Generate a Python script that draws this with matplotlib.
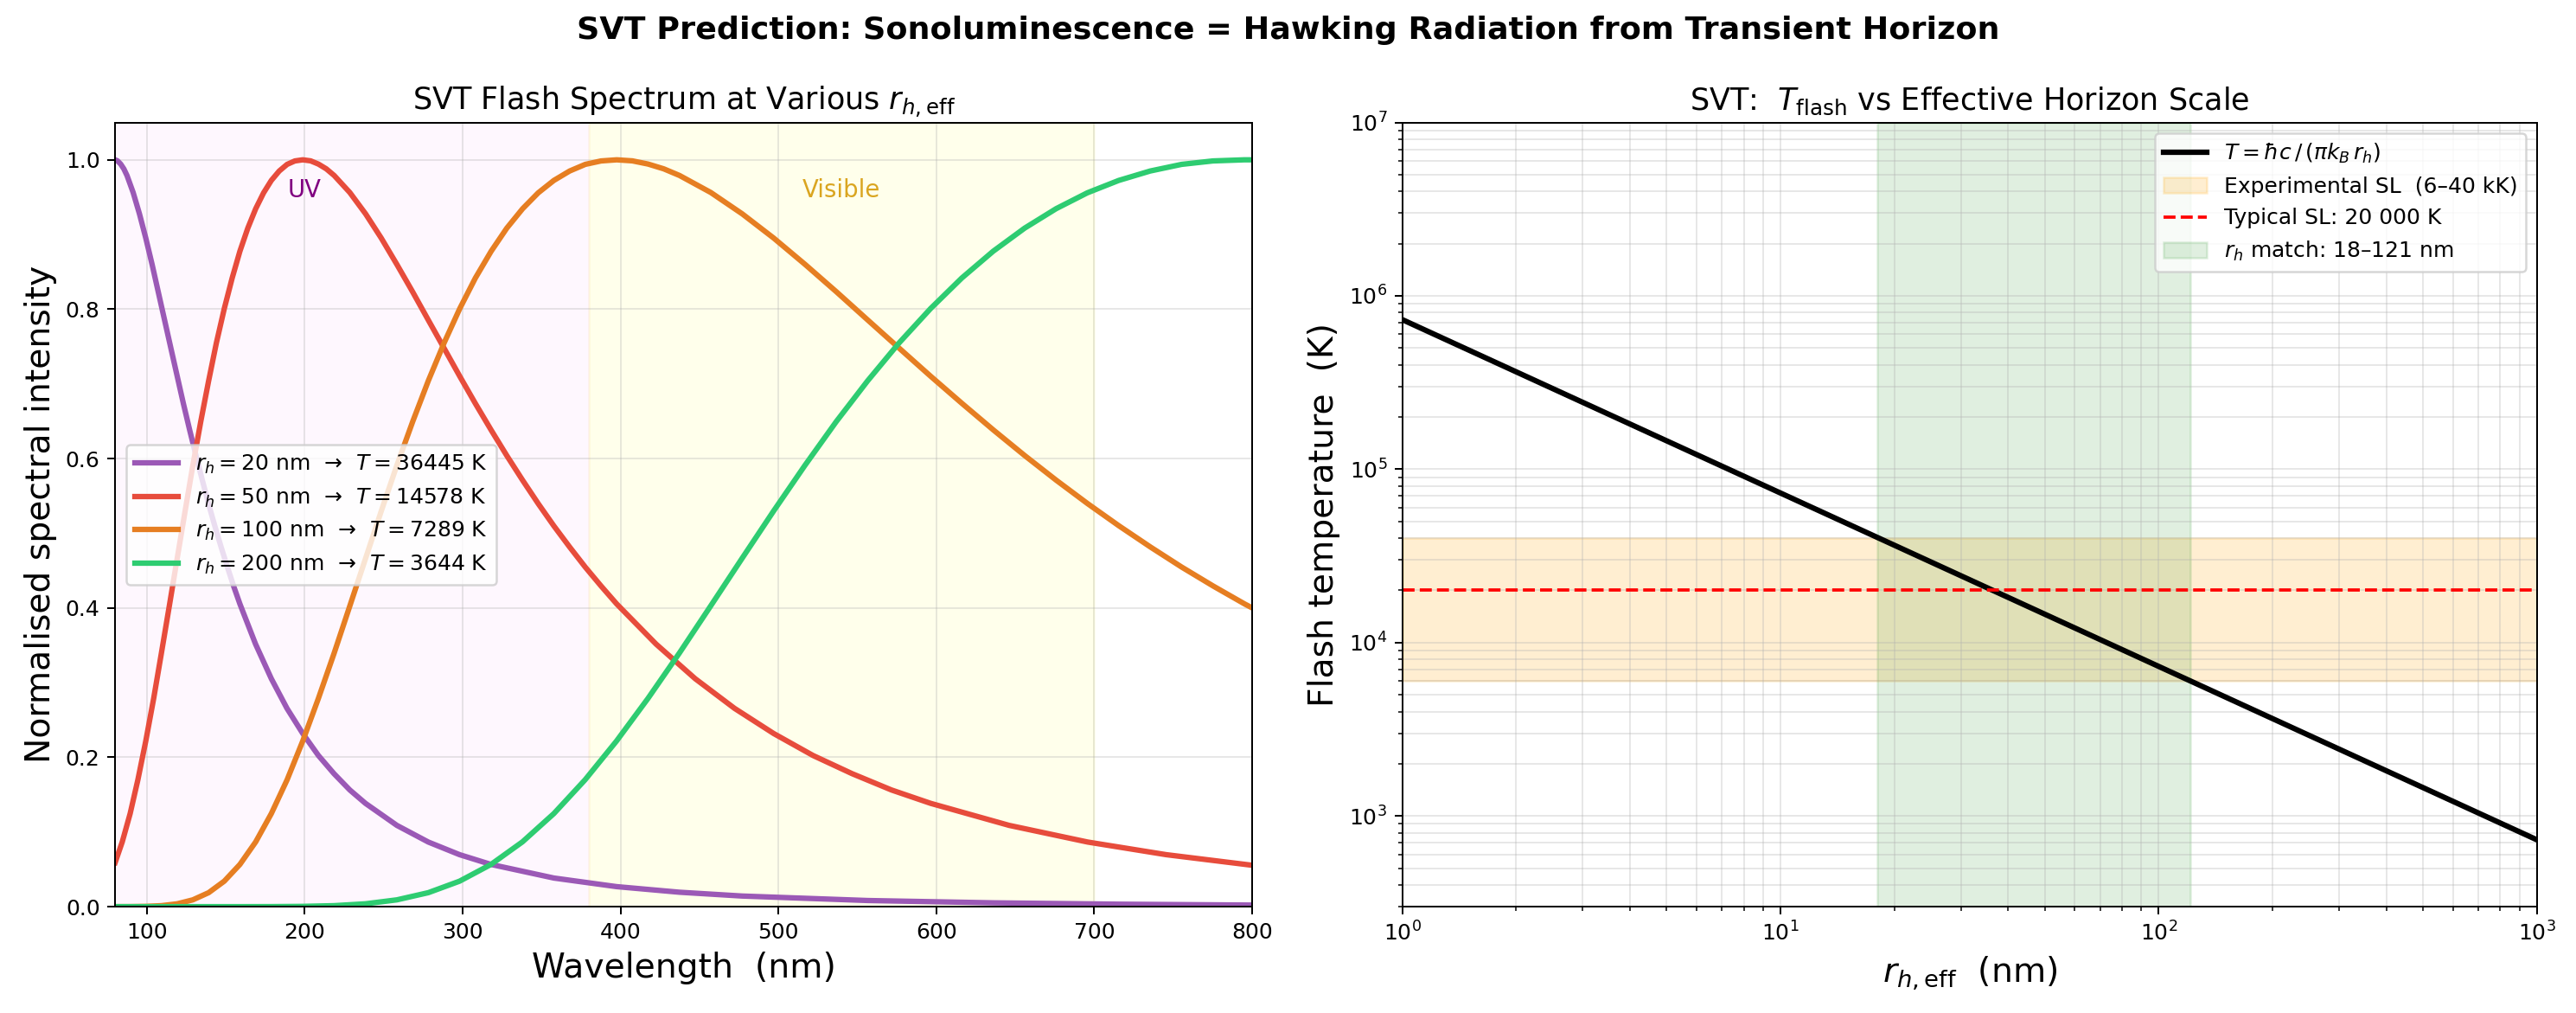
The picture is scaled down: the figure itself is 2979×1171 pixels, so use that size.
import matplotlib
matplotlib.use('Agg')
import matplotlib.pyplot as plt

# Spectra (normalised intensity vs wavelength, nm)
wl_20 = [80, 81.5, 83.5, 85.5, 87.5, 91.4, 95.4, 99.4, 103.4, 107.3, 111.3, 115.3, 119.3, 123.2,
         127.2, 131.2, 135.2, 139.1, 143.1, 147.1, 151.1, 155.0, 159, 168.9, 178.9, 188.8, 198.8,
         208.7, 218.6, 228.6, 238.5, 258.4, 278.3, 298.1, 318, 357.8, 397.5, 437.3, 477, 556.5,
         636, 715.5, 800]
I_20 = [1.0, 0.9986, 0.9943, 0.9879, 0.979, 0.9562, 0.9276, 0.8952, 0.8599, 0.8231, 0.7854, 0.7477,
        0.7102, 0.6737, 0.6381, 0.6039, 0.571, 0.5396, 0.5098, 0.4815, 0.4546, 0.4293, 0.4053,
        0.3516, 0.3052, 0.2655, 0.2318, 0.2024, 0.178, 0.1562, 0.1383, 0.1088, 0.0865, 0.0696,
        0.0565, 0.0383, 0.0268, 0.0193, 0.0142, 0.0082, 0.0051, 0.0033, 0.0021]

wl_50 = [80, 84.5, 89.5, 94.4, 99.4, 104.4, 109.3, 114.3, 119.3, 124.3, 129.2, 134.2, 139.2, 144.1,
         149.1, 154.1, 159, 164, 169, 174, 178.9, 183.9, 188.9, 193.8, 198.8, 203.8, 208.7, 213.7,
         218.7, 228.6, 238.6, 248.5, 258.4, 268.4, 278.3, 288.3, 298.2, 308.1, 318.1, 328, 338,
         347.9, 357.8, 367.8, 377.7, 387.7, 397.6, 422.5, 447.3, 472.2, 497, 521.9, 546.7, 571.6,
         596.4, 646.1, 695.8, 745.5, 800]
I_50 = [0.059, 0.0867, 0.1246, 0.1699, 0.2218, 0.2788, 0.3396, 0.4026, 0.4664, 0.5296, 0.5909,
        0.6494, 0.7041, 0.7548, 0.8007, 0.8417, 0.8776, 0.9085, 0.9345, 0.9558, 0.9724, 0.985,
        0.9939, 0.9985, 1.0, 0.9986, 0.9943, 0.9879, 0.979, 0.9562, 0.9276, 0.8952, 0.8599, 0.8231,
        0.7854, 0.7477, 0.7102, 0.6737, 0.6381, 0.6039, 0.571, 0.5396, 0.5098, 0.4815, 0.4546,
        0.4293, 0.4053, 0.3516, 0.3052, 0.2655, 0.2318, 0.2024, 0.178, 0.1562, 0.1383, 0.1088,
        0.0865, 0.0696, 0.0554]

wl_100 = [80, 89.5, 99.4, 109.3, 119.3, 129.2, 139.2, 149.1, 159, 169, 178.9, 188.9, 198.8, 208.7,
          218.7, 228.6, 238.6, 248.5, 258.4, 268.4, 278.3, 288.3, 298.2, 308.1, 318.1, 328, 338,
          347.9, 357.8, 367.8, 377.7, 387.7, 397.6, 407.5, 417.5, 427.4, 437.4, 457.2, 477.1, 497,
          516.9, 536.8, 556.6, 576.5, 596.4, 616.3, 636.2, 656, 675.9, 695.8, 715.7, 735.6, 755.4,
          775.3, 795.2, 800]
I_100 = [0.0, 0.00006, 0.00035, 0.0013, 0.0038, 0.0091, 0.0187, 0.0341, 0.0565, 0.0867, 0.1246,
         0.1699, 0.2218, 0.2788, 0.3396, 0.4026, 0.4664, 0.5296, 0.5909, 0.6494, 0.7041, 0.7548,
         0.8007, 0.8417, 0.8776, 0.9085, 0.9345, 0.9558, 0.9724, 0.985, 0.9939, 0.9985, 1.0,
         0.9986, 0.9943, 0.9879, 0.979, 0.9562, 0.9276, 0.8952, 0.8599, 0.8231, 0.7854, 0.7477,
         0.7102, 0.6737, 0.6381, 0.6039, 0.571, 0.5396, 0.5098, 0.4815, 0.4546, 0.4293, 0.4053,
         0.400]

wl_200 = [80, 159, 178.9, 198.8, 218.6, 238.5, 258.4, 278.3, 298.1, 318, 337.9, 357.8, 377.6,
          397.5, 417.4, 437.3, 457.1, 477, 496.9, 516.8, 536.6, 556.5, 576.4, 596.3, 616.1, 636,
          655.9, 675.8, 695.6, 715.5, 735.4, 755.3, 775.1, 795, 800]
I_200 = [0.0, 0.0, 0.00006, 0.00035, 0.0013, 0.0038, 0.0091, 0.0187, 0.0341, 0.0565, 0.0867,
         0.1246, 0.1699, 0.2218, 0.2788, 0.3396, 0.4026, 0.4664, 0.5296, 0.5909, 0.6494, 0.7041,
         0.7548, 0.8007, 0.8417, 0.8776, 0.9085, 0.9345, 0.9558, 0.9724, 0.985, 0.9939, 0.9985,
         1.0, 1.0]

r_h_values = [20, 50, 100, 200]
T_values = [36445, 14578, 7289, 3644]
colors = ['#9b59b6', '#e74c3c', '#e67e22', '#2ecc71']

# Hawking line (log-log), end points
r_line = [1, 1000]
T_line = [728900, 728.9]

fig = plt.figure(figsize=(2979 / 180, 1171 / 180), dpi=180)
ax1 = fig.add_axes([0.0447, 0.105, 0.4414, 0.7741])
ax2 = fig.add_axes([0.5444, 0.105, 0.4404, 0.7741])

# ---- Left: spectra
ax1.axvspan(10, 380, color='violet', alpha=0.06)
ax1.axvspan(380, 700, color='yellow', alpha=0.08)
spectra = [(wl_20, I_20), (wl_50, I_50), (wl_100, I_100), (wl_200, I_200)]
for (wl, I), r, T, c in zip(spectra, r_h_values, T_values, colors):
    ax1.plot(wl, I, color=c, lw=2.5,
             label=rf'$r_h = {r}$ nm  →  $T = {T}$ K')
ax1.text(200, 0.95, 'UV', ha='center', fontsize=11, color='purple')
ax1.text(540, 0.95, 'Visible', ha='center', fontsize=11, color='goldenrod')
ax1.set_xlim(80, 800)
ax1.set_ylim(0, 1.05)
ax1.set_xlabel('Wavelength  (nm)', fontsize=15.7)
ax1.set_ylabel('Normalised spectral intensity', fontsize=15.7)
ax1.set_title(r'SVT Flash Spectrum at Various $r_{h,\mathrm{eff}}$', fontsize=14)
ax1.legend(loc='center left', fontsize=10)
ax1.grid(True, alpha=0.3)

# ---- Right: T vs r_h
ax2.loglog(r_line, T_line, color='black', lw=2.5, label=r'$T = \hbar c\,/\,(\pi k_B\, r_h)$')
ax2.axhspan(6000, 40000, color='orange', alpha=0.18, label='Experimental SL  (6–40 kK)')
ax2.axhline(20000, color='red', ls='--', lw=1.5, label='Typical SL: 20 000 K')
ax2.axvspan(18, 121, color='green', alpha=0.12, label=r'$r_h$ match: 18–121 nm')
ax2.set_xlim(1, 1000)
ax2.set_ylim(300, 1e7)
ax2.set_xlabel(r'$r_{h,\mathrm{eff}}$  (nm)', fontsize=15.7)
ax2.set_ylabel('Flash temperature  (K)', fontsize=15.7)
ax2.set_title(r'SVT:  $T_{\mathrm{flash}}$ vs Effective Horizon Scale', fontsize=14)
ax2.legend(loc='upper right', fontsize=10)
ax2.grid(True, which='both', alpha=0.3)

fig.suptitle('SVT Prediction: Sonoluminescence = Hawking Radiation from Transient Horizon',
             fontsize=14.6, fontweight='bold', y=0.985)

fig.savefig('out.png', dpi=180)
